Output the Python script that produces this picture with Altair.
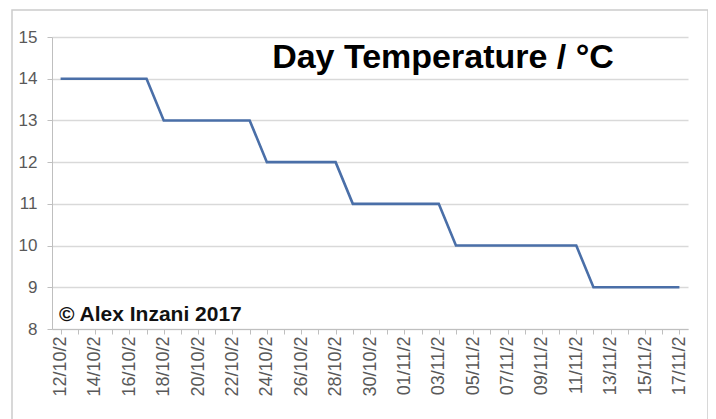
import json
import altair as alt
import pandas as pd

# ---- data ----
dates = [
    "12/10/2017", "13/10/2017", "14/10/2017", "15/10/2017", "16/10/2017", "17/10/2017",
    "18/10/2017", "19/10/2017", "20/10/2017", "21/10/2017", "22/10/2017", "23/10/2017",
    "24/10/2017", "25/10/2017", "26/10/2017", "27/10/2017", "28/10/2017",
    "29/10/2017", "30/10/2017", "31/10/2017", "01/11/2017", "02/11/2017", "03/11/2017",
    "04/11/2017", "05/11/2017", "06/11/2017", "07/11/2017", "08/11/2017", "09/11/2017",
    "10/11/2017", "11/11/2017",
    "12/11/2017", "13/11/2017", "14/11/2017", "15/11/2017", "16/11/2017", "17/11/2017",
]
temps = [
    14, 14, 14, 14, 14, 14,
    13, 13, 13, 13, 13, 13,
    12, 12, 12, 12, 12,
    11, 11, 11, 11, 11, 11,
    10, 10, 10, 10, 10, 10, 10, 10,
    9, 9, 9, 9, 9, 9,
]
x_tick_labels = [
    "12/10/2", "14/10/2", "16/10/2", "18/10/2", "20/10/2", "22/10/2", "24/10/2",
    "26/10/2", "28/10/2", "30/10/2", "01/11/2", "03/11/2", "05/11/2", "07/11/2",
    "09/11/2", "11/11/2", "13/11/2", "15/11/2", "17/11/2",
]
y_ticks = [8, 9, 10, 11, 12, 13, 14, 15]
title_text = "Day Temperature / °C"
credit_text = "© Alex Inzani 2017"

df = pd.DataFrame({"idx": list(range(len(dates))), "date": dates, "temp": temps})

# every day gets a tick, every other day a label
label_arr = [x_tick_labels[i // 2] if i % 2 == 0 else "" for i in range(len(dates))]
label_expr = json.dumps(label_arr) + "[datum.value]"

FONT = "Liberation Sans"
AX = "#bfbfbf"
LBL = "#595959"

line = alt.Chart(df).mark_line(color="#4a6fa8", strokeWidth=2.6).encode(
    x=alt.X(
        "idx:Q",
        scale=alt.Scale(domain=[-0.5, len(dates) - 0.5], nice=False, zero=False),
        axis=alt.Axis(
            values=list(range(len(dates))), labelExpr=label_expr, labelAngle=-90,
            title=None, grid=False, domainColor=AX, tickColor=AX, tickSize=5,
            labelFontSize=18, labelColor=LBL, labelFont=FONT, labelPadding=2,
            labelOverlap=False, labelFlush=False,
        ),
    ),
    y=alt.Y(
        "temp:Q",
        scale=alt.Scale(domain=[8, 15], nice=False, zero=False),
        axis=alt.Axis(
            values=y_ticks, title=None, grid=True, gridColor="#d9d9d9", gridWidth=1.3,
            domainColor=AX, tickColor=AX, tickSize=5, labelFontSize=17,
            labelPadding=10, labelColor=LBL, labelFont=FONT,
        ),
    ),
)

title = alt.Chart(pd.DataFrame({"t": [title_text]})).mark_text(
    font=FONT, fontSize=34, fontWeight="bold", color="#000000",
    align="center", baseline="alphabetic",
).encode(text="t:N", x=alt.value(391), y=alt.value(31))

credit = alt.Chart(pd.DataFrame({"t": [credit_text]})).mark_text(
    font=FONT, fontSize=21, fontWeight="bold", color="#111111",
    align="left", baseline="alphabetic",
).encode(text="t:N", x=alt.value(7), y=alt.value(284))

border = alt.Chart(pd.DataFrame({"a": [0]})).mark_rect(
    fillOpacity=0, stroke="#cccccc", strokeWidth=1.5,
).encode(x=alt.value(-40), x2=alt.value(656), y=alt.value(-27), y2=alt.value(420))

chart = alt.layer(border, line, title, credit).properties(
    width=636, height=292,
    autosize=alt.AutoSizeParams(type="none"),
    padding={"left": 44, "top": 29, "right": 20, "bottom": 90},
).configure_view(stroke=None)

chart.save("out.html", embed_options={"renderer": "svg", "actions": False})
